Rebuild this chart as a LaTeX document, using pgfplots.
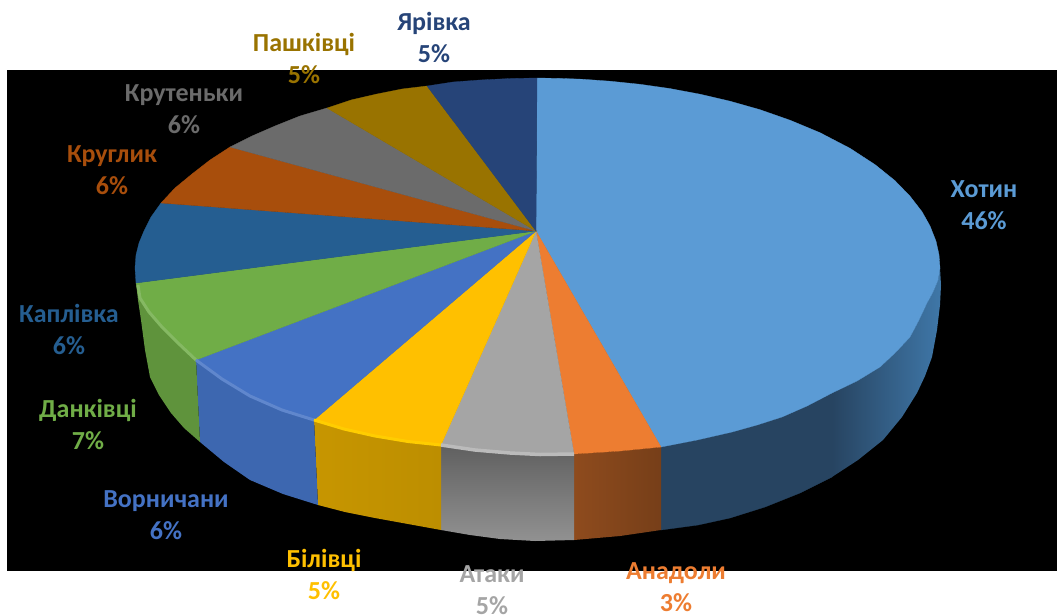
\documentclass[border=0pt]{standalone}
\usepackage{pgfplots}
\pgfplotsset{compat=1.18}
\usepackage{fontspec}
\setmainfont{Carlito}
\definecolor{cA}{HTML}{5B9BD5}
\definecolor{cB}{HTML}{ED7D31}
\definecolor{cC}{HTML}{A5A5A5}
\definecolor{cD}{HTML}{FFC000}
\definecolor{cE}{HTML}{4472C4}
\definecolor{cF}{HTML}{70AD47}
\definecolor{cG}{HTML}{255E91}
\definecolor{cH}{HTML}{A84E0C}
\definecolor{cI}{HTML}{6B6B6B}
\definecolor{cJ}{HTML}{997300}
\definecolor{cK}{HTML}{264478}
\definecolor{sA}{HTML}{274461}
\definecolor{sB}{HTML}{3F77A8}
\newcommand{\lab}[4]{\node[text=#3,align=center,font=\fontsize{26}{32}\selectfont\bfseries,inner sep=0pt] at (axis cs:#1,#2) {#4};}
\begin{document}
\begin{tikzpicture}
\begin{axis}[scale only axis,width=1057pt,height=614pt,xmin=0,xmax=1057,ymin=0,ymax=614,y dir=reverse,axis lines=none,clip=true]
% background
\addplot[fill=black,draw=none] coordinates {(7,70)(1057,70)(1057,571)(7,571)} --cycle;
% sides
\addplot[draw=sA,line width=0.3pt,fill=sA] coordinates {(661,447)(697,440)(732,432)(757,425)(782,417)(807,406)(832,393)(832,477)(800,493)(765,507)(730,518)(698,525)(661,530)} --cycle;
\addplot[draw=none,left color=sA,right color=sB] coordinates {(832,393)(857,381)(880,367)(896,352)(910,337)(919,320)(927,303)(933,292)(938,280)(940,268)(941,285)(940,305)(937,330)(932,357)(925,376)(917,393)(902,417)(883,440)(858,460)(832,477)} --cycle;
\addplot[draw=none,left color=cB!60!black,right color=cB!50!black] coordinates {(574,454)(620,451)(661,447)(661,530)(620,536)(574,540)} --cycle;
\addplot[draw=none,top color=cC!58!black,bottom color=cC!88!black] coordinates {(441,445)(475,450)(510,453)(540,454.5)(574,454)(574,540)(535,541)(500,539)(470,535)(441,530)} --cycle;
\addplot[draw=none,left color=cD!78!black,right color=cD!74!black] coordinates {(314,420)(344,429)(375,436)(408,441.5)(441,445)(441,530)(408,524)(375,518)(345,512)(318,505)} --cycle;
\addplot[draw=none,fill=cE!90!black] coordinates {(196,360)(222,379)(250,396)(282,410)(314,420)(318,505)(283,494)(250,480)(224,462)(200,442)} --cycle;
\addplot[draw=none,fill=cF!85!black] coordinates {(136,283)(139,298)(148,312)(161,327)(177,343)(196,360)(200,442)(184,428)(171,413)(159,395)(150,377)(145,350)(141,320)(138,300)} --cycle;
% top faces
\addplot[fill=cA,draw=cA,line width=0.3pt] coordinates {(536,231)(537,78)(560,78.4)(582,79.2)(610,81.2)(640,84.3)(670,88.6)(700,94.2)(730,101.2)(760,109.7)(790,120.2)(820,132.7)(850,148.3)(875,164.6)(895,180.7)(910,196.2)(922,211.7)(930,226)(936,241.2)(939,254.7)(940,268)(938,280)(933,292)(927,303)(919,320)(910,337)(896,352)(880,367)(857,381)(832,393)(807,406)(782,417)(757,425)(732,432)(697,440)(661,447)} --cycle;
\addplot[fill=cB,draw=cB,line width=0.3pt] coordinates {(536,231)(661,447)(620,451)(574,454)} --cycle;
\addplot[fill=cC,draw=cC,line width=0.3pt] coordinates {(536,231)(574,454)(540,454.5)(510,453)(475,450)(441,445)} --cycle;
\addplot[fill=cD,draw=cD,line width=0.3pt] coordinates {(536,231)(441,445)(408,441.5)(375,436)(344,429)(314,420)} --cycle;
\addplot[fill=cE,draw=cE,line width=0.3pt] coordinates {(536,231)(314,420)(282,410)(250,396)(222,379)(196,360)} --cycle;
\addplot[fill=cF,draw=cF,line width=0.3pt] coordinates {(536,231)(196,360)(177,343)(161,327)(148,312)(139,298)(136,283)} --cycle;
\addplot[fill=cG,draw=cG,line width=0.3pt] coordinates {(536,231)(136,283)(135,268)(136,255)(139,243)(144,231)(151,217)(161,203)} --cycle;
\addplot[fill=cH,draw=cH,line width=0.3pt] coordinates {(536,231)(161,203)(175,188)(192,174)(210,160)(230,147)} --cycle;
\addplot[fill=cI,draw=cI,line width=0.3pt] coordinates {(536,231)(230,147)(252,136)(275,126)(300,116)(327,108)} --cycle;
\addplot[fill=cJ,draw=cJ,line width=0.3pt] coordinates {(536,231)(327,108)(351,100)(377,94)(402,89)(427,86)} --cycle;
\addplot[fill=cK,draw=cK,line width=0.3pt] coordinates {(536,231)(427,86)(453,82)(480,80)(510,78.5)(537,78)} --cycle;
% bevel highlights
\addplot[draw=cF!85!white,line width=3pt] coordinates {(138,285)(140,298)(149,312)(162,327)(178,343)(196,360)};
\addplot[draw=cE!85!white,line width=3pt] coordinates {(196,360)(222,379)(250,396)(282,410)(314,420)};
\addplot[draw=cD!80!yellow,line width=3pt] coordinates {(314,420)(344,429)(375,436)(408,441.5)(441,445)};
\addplot[draw=cC!75!white,line width=3.5pt] coordinates {(441,445)(475,450)(510,453)(540,454.5)(574,454)};
% labels
\lab{434}{37}{cK}{Ярівка\\5\%}
\lab{304}{58}{cJ}{Пашківці\\5\%}
\lab{184}{109}{cI}{Крутеньки\\6\%}
\lab{112}{170}{cH}{Круглик\\6\%}
\lab{984}{205}{cA}{Хотин\\46\%}
\lab{69}{329}{cG}{Каплівка\\6\%}
\lab{88}{424}{cF}{Данківці\\7\%}
\lab{166}{515}{cE}{Ворничани\\6\%}
\lab{324}{574}{cD}{Білівці\\5\%}
\lab{492}{590}{cC}{Атаки\\5\%}
\lab{676}{587}{cB}{Анадоли\\3\%}
\end{axis}
\pgfresetboundingbox
\useasboundingbox (0,0) rectangle (1057pt,614pt);
\end{tikzpicture}
\end{document}
